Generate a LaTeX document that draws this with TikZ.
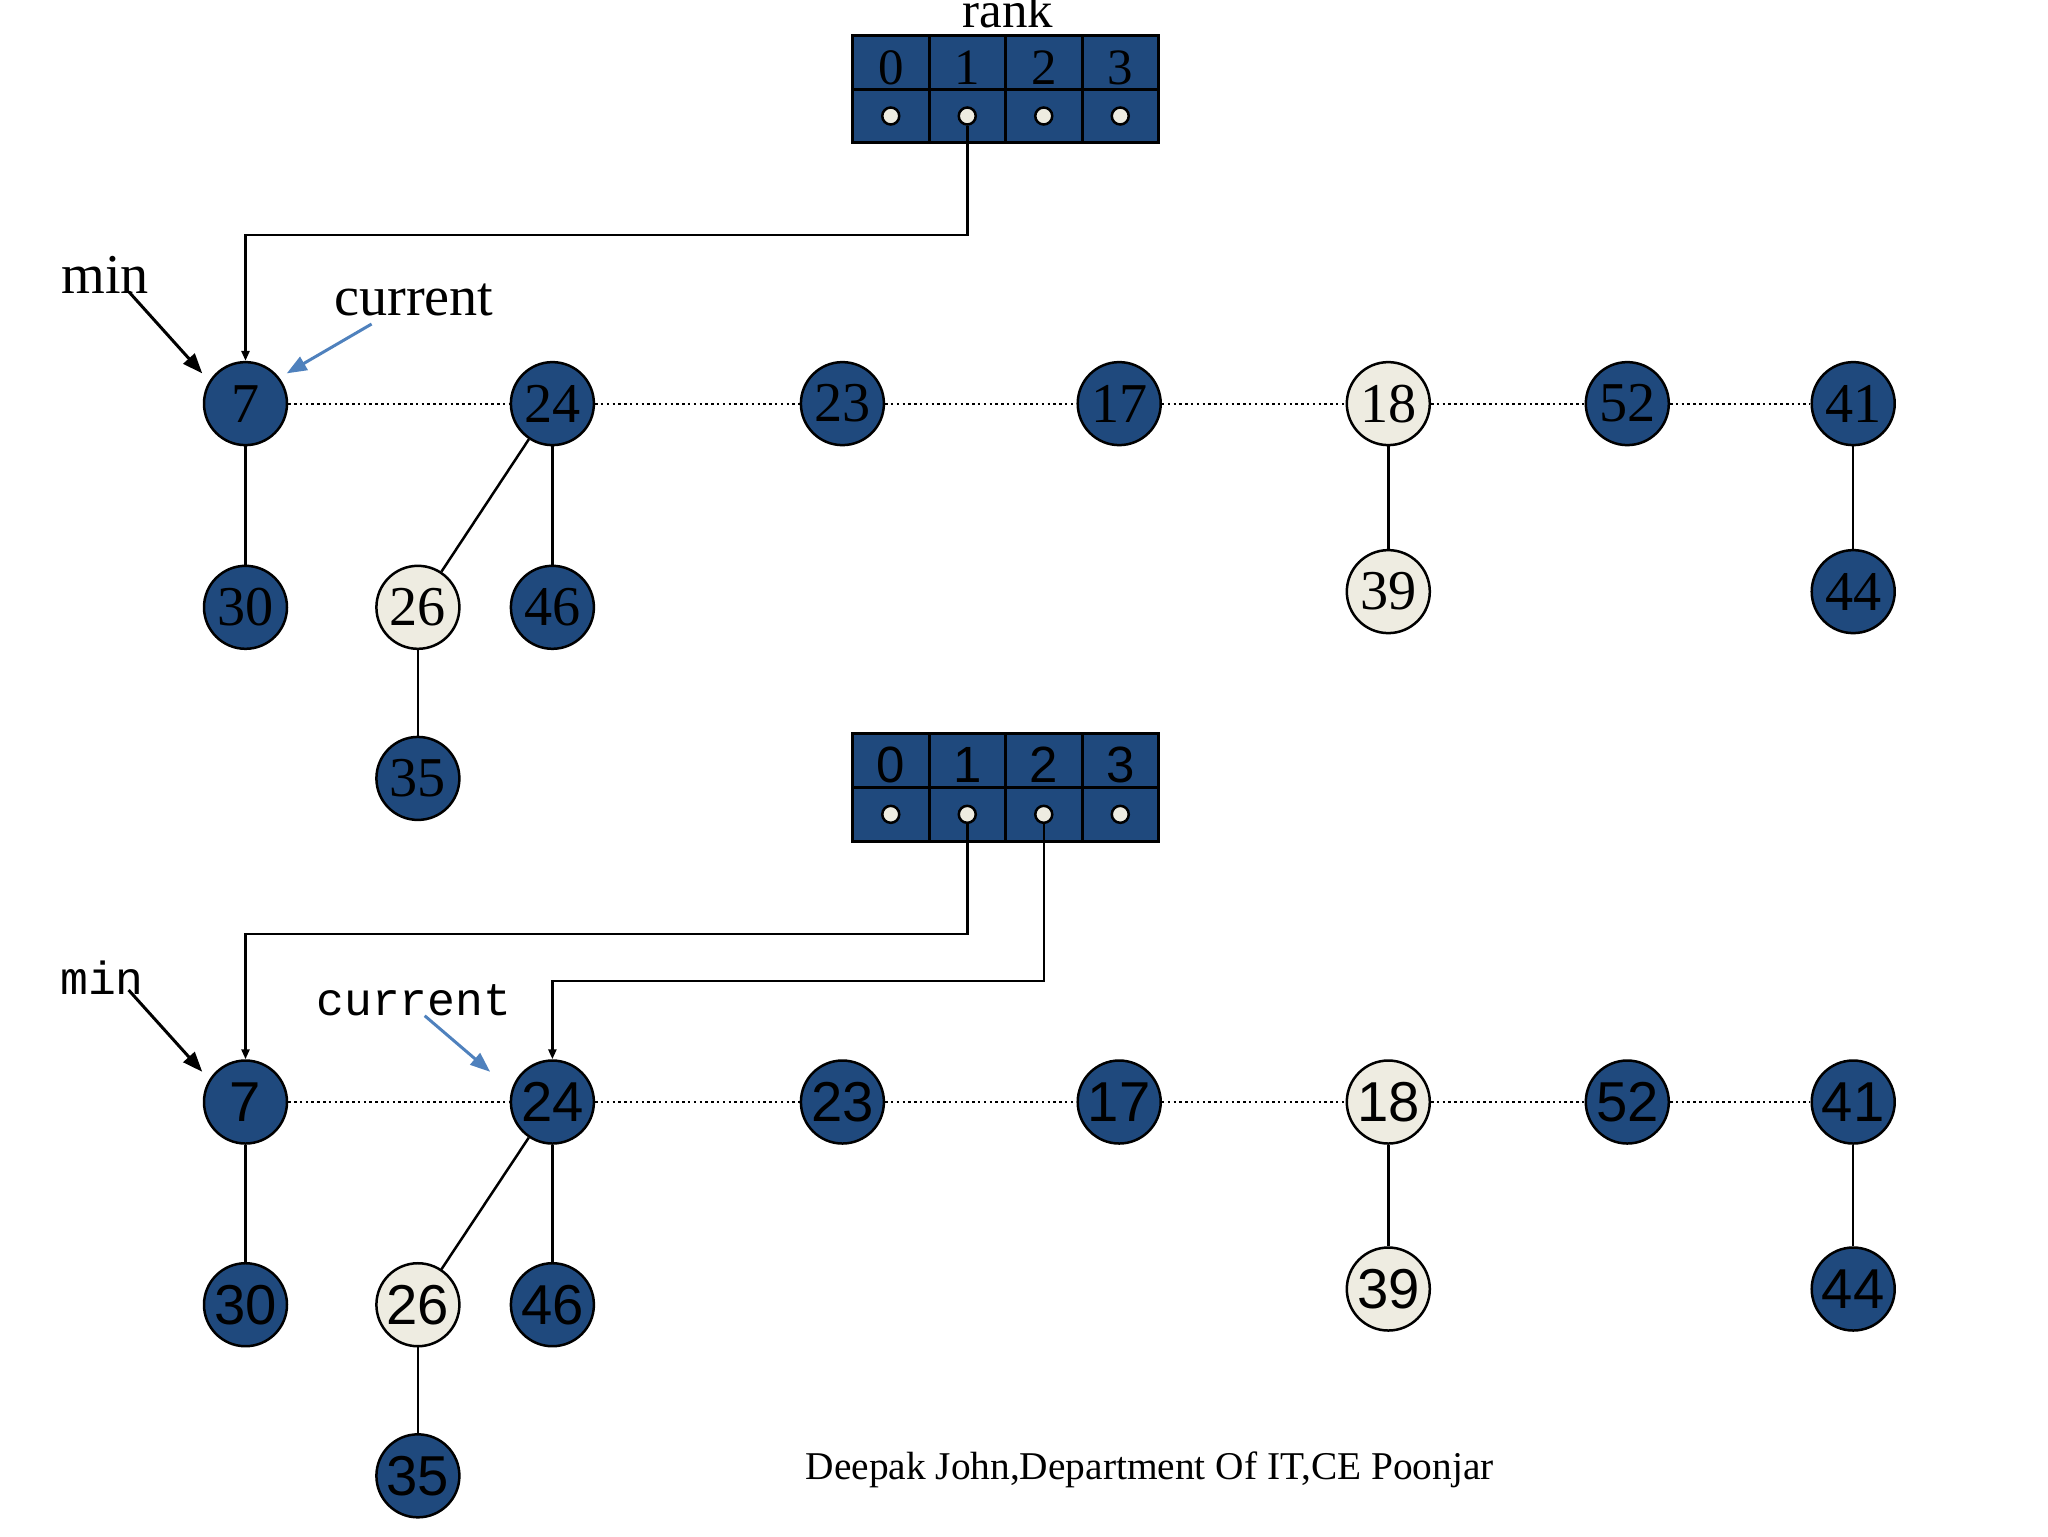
\documentclass[tikz,border=0pt]{standalone}
\usepackage{fontspec}
\setmainfont{Liberation Serif}
\newfontfamily\arialface{Liberation Sans}
\newfontfamily\simface{Liberation Mono}
\usetikzlibrary{arrows.meta,positioning}
\definecolor{heapBlue}{RGB}{31,73,125}
\definecolor{markedPale}{RGB}{238,236,225}
\definecolor{currentBlue}{RGB}{79,129,189}

\begin{document}
\begin{tikzpicture}[x=0.1mm,y=-0.1mm,
  darkKey/.style={circle,draw=black,line width=0.25mm,fill=heapBlue,minimum size=8.3mm,inner sep=0pt},
  paleKey/.style={darkKey,fill=markedPale},
  serifKey/.style={font=\fontsize{16}{16}\selectfont},
  sansKey/.style={font=\arialface\fontsize{16}{16}\selectfont},
  tag/.style={anchor=base west,inner sep=0pt},
  rootLink/.style={line width=0.22mm,dash pattern=on 0.25mm off 0.33mm},
  childLink/.style={line width=0.25mm},
  rankCell/.style={draw=black,line width=0.3mm,fill=heapBlue},
  rankDot/.style={circle,draw=black,line width=0.25mm,fill=markedPale,minimum size=1.7mm,inner sep=0pt},
  rankPtr/.style={line width=0.25mm,-{Triangle[length=1mm,width=0.8mm]}},
  minPtr/.style={line width=0.3mm,-{Triangle[length=2mm,width=1.5mm]}},
  curPtr/.style={minPtr,currentBlue}]
 \useasboundingbox (0,0) rectangle (2048,1536);

 % upper snapshot: rank array
 \node[anchor=base,inner sep=0pt,font=\fontsize{14.5}{14.5}\selectfont] (rankLabel) at (1008,27) {rank};
 \foreach \i [evaluate=\i as \cx using 890.75+76.5*\i] in {0,...,3} {
   \draw[rankCell] (\cx-38.25,35) rectangle (\cx+38.25,89);
   \draw[rankCell] (\cx-38.25,89) rectangle (\cx+38.25,142.5);
   \node[anchor=base,font=\fontsize{14.5}{14.5}\selectfont] at (\cx,84) {\i};
   \node[rankDot] (ra\i) at (\cx,116) {};
 }

 % upper snapshot: root list
 \node[darkKey,serifKey] (t7) at (245.5,403.6) {7};
 \node[darkKey,serifKey] (t24) at (552.4,403.6) {24};
 \node[darkKey,serifKey] (t23) at (842.4,403.6) {23};
 \node[darkKey,serifKey] (t17) at (1119.2,403.6) {17};
 \node[paleKey,serifKey] (t18) at (1388.3,403.6) {18};
 \node[darkKey,serifKey] (t52) at (1627.3,403.6) {52};
 \node[darkKey,serifKey] (t41) at (1853.2,403.6) {41};
 \node[darkKey,serifKey] (t30) at (245.5,607.3) {30};
 \node[paleKey,serifKey] (t26) at (417.9,607.3) {26};
 \node[darkKey,serifKey] (t46) at (552.4,607.3) {46};
 \node[darkKey,serifKey] (t35) at (417.9,778.4) {35};
 \node[paleKey,serifKey] (t39) at (1388.3,591.6) {39};
 \node[darkKey,serifKey] (t44) at (1853.2,591.6) {44};
 \draw[rootLink] (t7) -- (t24) -- (t23) -- (t17) -- (t18) -- (t52) -- (t41);
 \draw[childLink] (t7) -- (t30);
 \draw[childLink] (t24) -- (t26);
 \draw[childLink] (t24) -- (t46);
 \draw[childLink] (t26) -- (t35);
 \draw[childLink] (t18) -- (t39);
 \draw[childLink] (t41) -- (t44);
 \coordinate (bendA) at (0,235);
 \draw[rankPtr] (ra1.south) -- (ra1.south |- bendA) -| (t7.north);
 \node[tag,font=\fontsize{16}{16}\selectfont] (minTop) at (60.7,293.6) {min};
 \node[tag,font=\fontsize{16}{16}\selectfont] (curTop) at (333.6,315) {current};
 \draw[minPtr] ([shift={(6.8mm,0.2mm)}]minTop.base west) -- ([xshift=-1.3mm]t7.135);
 \draw[curPtr] ([shift={(3.8mm,-0.9mm)}]curTop.base west) -- ([xshift=1.1mm]t7.45);

 % lower snapshot: rank array
 \foreach \i [evaluate=\i as \cx using 890.75+76.5*\i] in {0,...,3} {
   \draw[rankCell] (\cx-38.25,733) rectangle (\cx+38.25,787);
   \draw[rankCell] (\cx-38.25,787) rectangle (\cx+38.25,841);
   \node[anchor=base,font=\arialface\fontsize{14.5}{14.5}\selectfont] at (\cx,782.7) {\i};
   \node[rankDot] (rb\i) at (\cx,814.3) {};
 }

 % lower snapshot: root list
 \node[darkKey,sansKey] (b7) at (245.5,1102) {7};
 \node[darkKey,sansKey] (b24) at (552.4,1102) {24};
 \node[darkKey,sansKey] (b23) at (842.4,1102) {23};
 \node[darkKey,sansKey] (b17) at (1119.2,1102) {17};
 \node[paleKey,sansKey] (b18) at (1388.3,1102) {18};
 \node[darkKey,sansKey] (b52) at (1627.3,1102) {52};
 \node[darkKey,sansKey] (b41) at (1853.2,1102) {41};
 \node[darkKey,sansKey] (b30) at (245.5,1304.7) {30};
 \node[paleKey,sansKey] (b26) at (417.9,1304.7) {26};
 \node[darkKey,sansKey] (b46) at (552.4,1304.7) {46};
 \node[darkKey,sansKey] (b35) at (417.9,1475.8) {35};
 \node[paleKey,sansKey] (b39) at (1388.3,1289) {39};
 \node[darkKey,sansKey] (b44) at (1853.2,1289) {44};
 \draw[rootLink] (b7) -- (b24) -- (b23) -- (b17) -- (b18) -- (b52) -- (b41);
 \draw[childLink] (b7) -- (b30);
 \draw[childLink] (b24) -- (b26);
 \draw[childLink] (b24) -- (b46);
 \draw[childLink] (b26) -- (b35);
 \draw[childLink] (b18) -- (b39);
 \draw[childLink] (b41) -- (b44);
 \coordinate (bendB) at (0,933.8);
 \coordinate (bendC) at (0,980.8);
 \draw[rankPtr] (rb1.south) -- (rb1.south |- bendB) -| (b7.north);
 \draw[rankPtr] (rb2.south) -- (rb2.south |- bendC) -| (b24.north);
 \node[tag,font=\simface\fontsize{13.2}{13.2}\selectfont] (minBot) at (59.6,994) {min};
 \node[tag,font=\simface\fontsize{13.2}{13.2}\selectfont] (curBot) at (315.7,1015.7) {current};
 \draw[minPtr] ([shift={(6.9mm,0.4mm)}]minBot.base west) -- ([xshift=-1.3mm]b7.135);
 \draw[curPtr] ([xshift=10.9mm]curBot.base west) -- ([xshift=-3.2mm]b24.135);

 \node[tag,font=\fontsize{11.2}{11.2}\selectfont] (credit) at (805,1479.3)
   {Deepak John,Department Of IT,CE Poonjar};
\end{tikzpicture}
\end{document}
